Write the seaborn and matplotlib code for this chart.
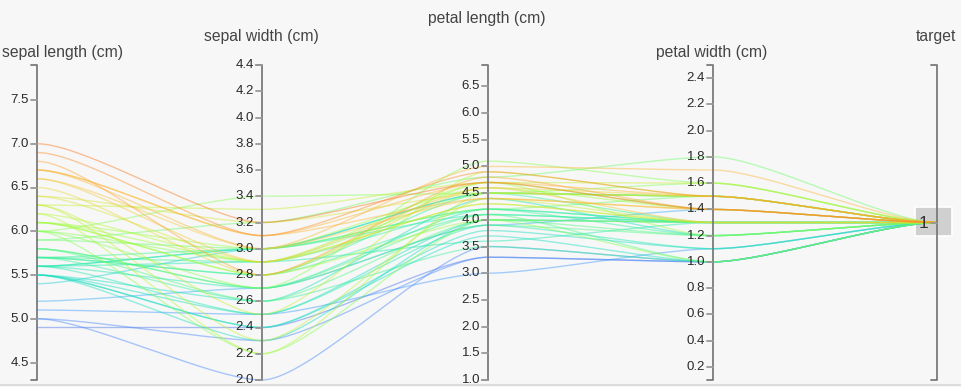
import numpy as np
import pandas as pd
import matplotlib
matplotlib.use("Agg")
import matplotlib.pyplot as plt
import seaborn as sns
from matplotlib.patches import Rectangle

# ---- data (iris, versicolor) ----
sepal_length = [7.0, 6.4, 6.9, 5.5, 6.5, 5.7, 6.3, 4.9, 6.6, 5.2, 5.0, 5.9, 6.0, 6.1, 5.6, 6.7, 5.6, 5.8, 6.2, 5.6,
                5.9, 6.1, 6.3, 6.1, 6.4, 6.6, 6.8, 6.7, 6.0, 5.7, 5.5, 5.5, 5.8, 6.0, 5.4, 6.0, 6.7, 6.3, 5.6, 5.5,
                5.5, 6.1, 5.8, 5.0, 5.6, 5.7, 5.7, 6.2, 5.1, 5.7]
sepal_width = [3.2, 3.2, 3.1, 2.3, 2.8, 2.8, 3.3, 2.4, 2.9, 2.7, 2.0, 3.0, 2.2, 2.9, 2.9, 3.1, 3.0, 2.7, 2.2, 2.5,
               3.2, 2.8, 2.5, 2.8, 2.9, 3.0, 2.8, 3.0, 2.9, 2.6, 2.4, 2.4, 2.7, 2.7, 3.0, 3.4, 3.1, 2.3, 3.0, 2.5,
               2.6, 3.0, 2.6, 2.3, 2.7, 3.0, 2.9, 2.9, 2.5, 2.8]
petal_length = [4.7, 4.5, 4.9, 4.0, 4.6, 4.5, 4.7, 3.3, 4.6, 3.9, 3.5, 4.2, 4.0, 4.7, 3.6, 4.4, 4.5, 4.1, 4.5, 3.9,
                4.8, 4.0, 4.9, 4.7, 4.3, 4.4, 4.8, 5.0, 4.5, 3.5, 3.8, 3.7, 3.9, 5.1, 4.5, 4.5, 4.7, 4.4, 4.1, 4.0,
                4.4, 4.6, 4.0, 3.3, 4.2, 4.2, 4.2, 4.3, 3.0, 4.1]
petal_width = [1.4, 1.5, 1.5, 1.3, 1.5, 1.3, 1.6, 1.0, 1.3, 1.4, 1.0, 1.5, 1.0, 1.4, 1.3, 1.4, 1.5, 1.0, 1.5, 1.1,
               1.8, 1.3, 1.5, 1.2, 1.3, 1.4, 1.4, 1.7, 1.5, 1.0, 1.1, 1.0, 1.2, 1.6, 1.5, 1.6, 1.5, 1.3, 1.3, 1.3,
               1.2, 1.4, 1.2, 1.0, 1.3, 1.2, 1.3, 1.3, 1.1, 1.3]
target = [1] * 50

dim_names = ["sepal length (cm)", "sepal width (cm)", "petal length (cm)", "petal width (cm)", "target"]
dim_ranges = [(4.3, 7.9), (2.0, 4.4), (1.0, 6.9), (0.1, 2.5), None]
dim_ticks = [
    ["4.5", "5.0", "5.5", "6.0", "6.5", "7.0", "7.5"],
    ["2.0", "2.2", "2.4", "2.6", "2.8", "3.0", "3.2", "3.4", "3.6", "3.8", "4.0", "4.2", "4.4"],
    ["1.0", "1.5", "2.0", "2.5", "3.0", "3.5", "4.0", "4.5", "5.0", "5.5", "6.0", "6.5"],
    ["0.2", "0.4", "0.6", "0.8", "1.0", "1.2", "1.4", "1.6", "1.8", "2.0", "2.2", "2.4"],
    ["1"],
]

# ---- layout ----
W, H = 961, 387
axis_x = [37, 262, 488, 713, 937]
TOP, BOT = 65, 380
title_y = [52, 36, 19, 52, 36]
CTRL = 0.22

def scale(j, v):
    if dim_ranges[j] is None:
        return (TOP + BOT) / 2
    lo, hi = dim_ranges[j]
    return TOP + (hi - v) / (hi - lo) * (BOT - TOP)

values = [sepal_length, sepal_width, petal_length, petal_width, target]

rows = []
t = np.linspace(0, 1, 40)[:, None]
for i in range(len(sepal_length)):
    segs = []
    for j in range(4):
        x0, x1 = axis_x[j], axis_x[j + 1]
        y0, y1 = scale(j, values[j][i]), scale(j + 1, values[j + 1][i])
        c = (x1 - x0) * CTRL
        P0, P1, P2, P3 = (np.array(p, float) for p in [(x0, y0), (x0 + c, y0), (x1 - c, y1), (x1, y1)])
        B = (1 - t) ** 3 * P0 + 3 * (1 - t) ** 2 * t * P1 + 3 * (1 - t) * t ** 2 * P2 + t ** 3 * P3
        segs.append(B if j == 0 else B[1:])
    path = np.vstack(segs)
    for k, (xx, yy) in enumerate(path):
        rows.append((i, k, xx, yy, sepal_length[i]))
df = pd.DataFrame(rows, columns=["id", "k", "x", "y", "sepal"])

sns.set_theme(style="white")
plt.rcParams["font.family"] = ["Liberation Sans", "DejaVu Sans"]

fig = plt.figure(figsize=(W / 100, H / 100), dpi=100, facecolor="#f7f7f7")
ax = fig.add_axes([0, 0, 1, 1])
ax.set_facecolor("#f7f7f7")
ax.set_xlim(0, W)
ax.set_ylim(H, 0)
ax.axis("off")

# target category box (under lines)
ax.add_patch(Rectangle((915, 207), 37, 29, facecolor="#d0d0d0", edgecolor="white", lw=1.2, zorder=1))

sns.lineplot(data=df, x="x", y="y", units="id", hue="sepal", estimator=None, sort=False,
             palette="turbo", hue_norm=(4.43, 7.81), alpha=0.45, lw=1.0, legend=False, ax=ax, zorder=2)

axis_col = "#7a7a7a"
for j in range(5):
    x = axis_x[j]
    ax.plot([x, x], [TOP, BOT], color=axis_col, lw=1.3, zorder=3, solid_capstyle="butt")
    ax.plot([x - 6, x], [TOP, TOP], color=axis_col, lw=1.3, zorder=3)
    ax.plot([x - 6, x], [BOT, BOT], color=axis_col, lw=1.3, zorder=3)
    for lab in dim_ticks[j]:
        y = scale(j, float(lab))
        ax.plot([x - 6, x], [y, y], color="#999999", lw=1.3, zorder=3)
        if j < 4:
            ax.text(x - 8, y, lab, ha="right", va="center", fontsize=9.5, color="#2a2a2a", zorder=4)
        else:
            ax.text(923, y + 1, lab, ha="center", va="center", fontsize=12.5, color="#333333", zorder=4)
    if j == 0:
        ax.text(2, title_y[j], dim_names[j], ha="left", va="center", fontsize=11.3, color="#444444")
    else:
        ax.text(x - 1, title_y[j], dim_names[j], ha="center", va="center", fontsize=11.3, color="#444444")

ax.plot([0, W], [385, 385], color="#dddddd", lw=1.5, zorder=0)

fig.savefig("out.png", dpi=100, facecolor="#f7f7f7")
